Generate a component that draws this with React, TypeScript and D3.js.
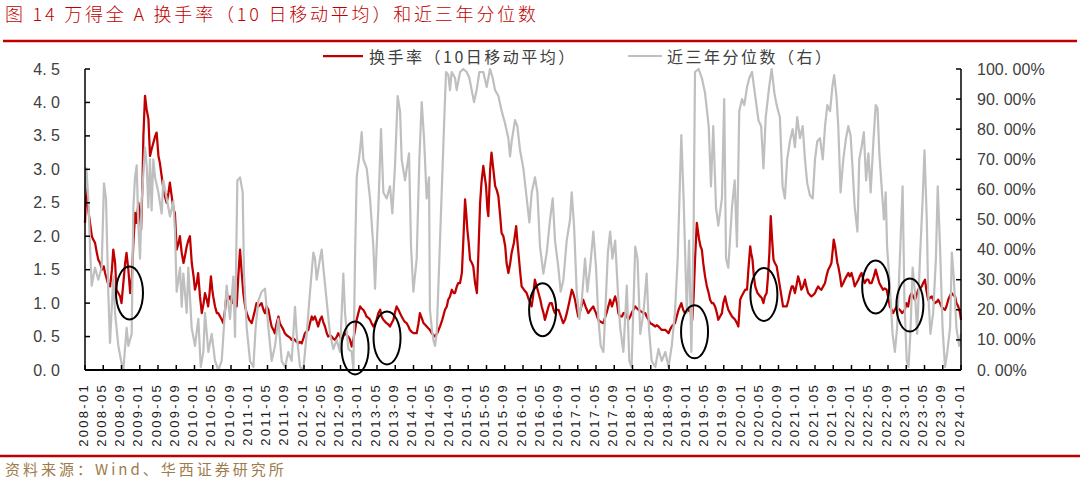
import * as d3 from 'd3';

// x positions are months counted from 2008-01
const xTickLabels = [
  '2008-01', '2008-05', '2008-09', '2009-01', '2009-05', '2009-09', '2010-01', '2010-05', '2010-09',
  '2011-01', '2011-05', '2011-09', '2012-01', '2012-05', '2012-09', '2013-01', '2013-05', '2013-09',
  '2014-01', '2014-05', '2014-09', '2015-01', '2015-05', '2015-09', '2016-01', '2016-05', '2016-09',
  '2017-01', '2017-05', '2017-09', '2018-01', '2018-05', '2018-09', '2019-01', '2019-05', '2019-09',
  '2020-01', '2020-05', '2020-09', '2021-01', '2021-05', '2021-09', '2022-01', '2022-05', '2022-09',
  '2023-01', '2023-05', '2023-09', '2024-01',
];
const leftTicks = [0, 0.5, 1, 1.5, 2, 2.5, 3, 3.5, 4, 4.5];
const rightTicks = [0, 10, 20, 30, 40, 50, 60, 70, 80, 90, 100];

// turnover rate, 10-day moving average [month, value]
const turnover2008 = [
  [0, 2.2], [0.3, 2.8], [0.7, 2.4], [1.1, 2.2], [1.5, 2.0], [1.8, 1.95], [2.2, 1.9], [2.6, 1.75], [2.9, 1.65],
  [3.3, 1.6], [3.7, 1.5], [4.1, 1.55], [4.4, 1.45], [5.0, 1.3], [5.5, 1.25], [5.9, 1.5], [6.2, 1.8], [6.6, 1.6],
  [6.9, 1.2], [7.3, 1.15], [7.7, 1.1], [8.0, 1.0], [8.4, 1.3], [8.8, 1.6], [9.1, 1.75], [9.5, 1.5], [9.9, 1.15],
  [10.3, 1.4], [10.6, 1.9], [11.0, 2.35], [11.3, 2.2], [11.7, 2.5], [12.0, 2.35], [12.3, 2.1], [12.6, 2.8],
  [12.8, 3.5], [13.15, 4.1], [13.5, 3.9], [13.9, 3.75], [14.25, 3.2], [14.6, 3.3], [15.0, 3.4], [15.4, 3.5],
  [15.7, 3.55], [16.1, 3.2], [16.4, 3.1], [16.8, 2.9], [17.2, 2.7], [17.5, 2.6], [17.9, 2.5], [18.3, 2.65],
  [18.6, 2.8], [19.0, 2.6], [19.4, 2.4], [19.7, 2.35], [20.1, 1.8], [20.5, 1.9], [20.8, 2.0], [21.2, 1.75],
  [21.6, 1.6], [21.9, 1.7], [22.3, 1.85], [22.7, 1.95], [23.0, 2.0], [23.4, 1.6], [23.8, 1.4], [24.1, 1.2],
  [24.5, 1.3], [24.8, 1.45], [25.2, 1.1], [25.6, 0.85], [26.0, 1.0], [26.3, 1.15], [26.7, 1.05], [27.0, 0.95],
  [27.3, 1.15], [27.6, 1.4], [27.9, 1.2], [28.1, 1.1], [28.5, 0.95], [28.9, 0.85], [29.2, 0.85], [29.6, 0.8],
  [30.0, 0.75], [30.3, 0.7], [30.7, 0.9], [31.05, 1.15], [31.4, 1.05], [31.8, 1.1], [32.2, 1.0], [32.5, 1.15],
  [32.9, 1.05], [33.25, 0.95], [33.6, 1.4], [33.98, 1.8], [34.3, 1.5], [34.7, 1.15], [35.1, 0.95], [35.44, 0.85],
  [36.0, 0.75], [36.54, 0.7],
];
const turnover2011 = [
  [37.1, 0.85], [37.6, 1.0], [38.0, 0.95], [38.7, 1.0], [39.1, 0.9], [39.45, 0.85], [39.8, 0.95], [40.2, 0.9],
  [40.6, 0.75], [40.9, 0.65], [41.3, 0.6], [41.6, 0.55], [42.0, 0.7], [42.4, 0.8], [42.7, 0.7], [43.1, 0.65],
  [43.5, 0.6], [43.8, 0.55], [44.2, 0.52], [44.6, 0.5], [45.0, 0.48], [45.3, 0.45], [45.7, 0.47], [46.0, 0.45],
  [46.4, 0.42], [46.8, 0.4], [47.1, 0.42], [47.5, 0.4], [47.9, 0.48], [48.2, 0.55], [48.6, 0.58], [48.95, 0.6],
  [49.3, 0.7], [49.7, 0.8], [50.0, 0.75], [50.4, 0.8], [50.8, 0.72], [51.1, 0.65], [51.5, 0.75], [51.9, 0.8],
  [52.2, 0.72], [52.6, 0.65], [53.0, 0.55], [53.3, 0.5], [53.7, 0.52], [54.1, 0.5], [54.4, 0.47], [54.8, 0.45],
  [55.2, 0.5], [55.5, 0.55], [55.9, 0.5], [56.3, 0.45], [56.6, 0.5], [57.0, 0.55], [57.4, 0.52], [57.7, 0.5],
  [58.1, 0.45], [58.45, 0.35], [58.8, 0.45], [59.2, 0.6], [59.55, 0.75], [59.9, 0.85], [60.3, 0.95], [60.6, 0.92],
  [61.0, 0.9], [61.4, 0.85], [61.7, 0.8], [62.1, 0.78], [62.5, 0.75], [62.8, 0.7], [63.2, 0.65], [63.6, 0.7],
  [63.9, 0.75], [64.3, 0.85], [64.7, 0.9], [65.0, 0.8], [65.4, 0.75], [65.8, 0.72], [66.1, 0.7], [66.5, 0.68],
  [66.85, 0.65], [67.2, 0.7], [67.6, 0.75], [67.9, 0.85], [68.3, 0.95], [68.7, 0.9], [69.05, 0.85], [69.4, 0.8],
  [69.8, 0.75], [70.1, 0.72], [70.5, 0.7], [70.9, 0.65], [71.2, 0.6], [71.6, 0.57], [72.0, 0.55], [72.3, 0.55],
  [72.7, 0.55], [73.1, 0.7], [73.4, 0.85], [73.8, 0.78], [74.2, 0.7], [74.5, 0.68], [74.9, 0.65], [75.3, 0.62],
  [75.6, 0.6], [76.0, 0.55], [76.7, 0.5],
];
const turnover2015 = [
  [77.2, 0.55], [77.8, 0.65], [78.3, 0.75], [78.9, 0.9], [79.3, 0.95], [79.6, 1.05], [80.0, 1.1], [80.4, 1.2],
  [80.8, 1.15], [81.1, 1.15], [81.5, 1.25], [81.8, 1.3], [82.2, 1.3], [82.6, 1.45], [82.9, 1.9], [83.3, 2.55],
  [83.6, 2.3], [83.8, 2.1], [84.1, 1.9], [84.4, 1.65], [84.8, 1.6], [85.1, 1.55], [85.5, 1.3], [85.9, 1.15],
  [86.2, 1.7], [86.6, 2.5], [86.9, 2.8], [87.3, 3.05], [87.6, 2.9], [87.9, 2.75], [88.2, 2.4], [88.4, 2.3],
  [88.8, 3.0], [89.1, 3.25], [89.5, 3.0], [89.9, 2.75], [90.2, 2.7], [90.6, 2.6], [91.0, 2.3], [91.3, 2.05],
  [91.7, 2.0], [92.1, 1.85], [92.4, 1.6], [92.8, 1.45], [93.2, 1.6], [93.5, 1.75], [94.0, 1.9], [94.5, 2.15],
  [94.8, 1.9], [95.0, 1.75], [95.4, 1.45], [95.7, 1.25], [96.2, 1.2], [96.8, 1.15], [97.3, 1.05], [97.9, 0.95],
  [98.2, 1.1], [98.6, 1.35], [99.0, 1.25], [99.4, 1.15], [99.8, 1.05], [100.1, 0.95], [100.5, 0.85], [100.8, 0.75],
  [101.2, 0.85], [101.6, 0.95], [101.9, 1.0], [102.3, 1.0], [102.7, 0.9], [103.0, 0.85], [103.4, 0.9], [103.8, 0.9],
  [104.3, 0.8], [104.8, 0.7], [105.2, 0.75], [105.6, 0.85], [106.1, 1.0], [106.7, 1.2], [107.0, 1.15], [107.4, 1.05],
  [107.8, 0.9], [108.1, 0.8], [108.6, 0.9], [109.2, 1.05], [109.7, 0.95], [110.3, 0.85], [110.8, 0.9], [111.4, 0.95],
  [112.0, 0.85], [112.5, 0.75], [113.0, 0.72], [113.6, 0.7], [114.3, 0.85], [115.1, 1.05],
];
const turnover2019 = [
  [115.5, 0.95], [116.2, 1.1], [116.6, 1.0], [116.9, 0.85], [117.3, 0.8], [117.7, 0.8], [118.0, 0.85], [118.4, 0.85],
  [118.8, 0.8], [119.1, 0.75], [119.5, 0.8], [119.8, 0.85], [120.2, 0.9], [120.6, 0.95], [121.0, 0.92], [121.3, 0.9],
  [121.8, 0.88], [122.4, 0.85], [122.8, 0.85], [123.1, 0.8], [123.5, 0.75], [123.9, 0.7], [124.4, 0.68], [125.0, 0.65],
  [125.3, 0.67], [125.7, 0.65], [126.1, 0.62], [126.4, 0.6], [126.8, 0.6], [127.2, 0.6], [127.5, 0.58], [127.9, 0.55],
  [128.2, 0.6], [128.6, 0.65], [129.0, 0.68], [129.3, 0.7], [129.7, 0.8], [130.1, 0.9], [130.4, 0.95], [130.7, 1.0],
  [131.1, 0.9], [131.5, 0.85], [132.0, 0.88], [132.6, 0.9], [133.1, 0.75], [133.4, 1.1], [133.7, 1.65], [134.1, 2.2],
  [134.4, 2.05], [134.6, 1.95], [134.9, 1.85], [135.2, 1.8], [135.5, 1.6], [135.9, 1.4], [136.3, 1.25], [136.7, 1.15],
  [137.0, 1.05], [137.4, 1.0], [137.7, 1.0], [138.1, 0.95], [138.5, 0.85], [138.8, 0.75], [139.2, 0.8], [139.6, 0.85],
  [139.9, 1.0], [140.3, 1.1], [140.6, 1.0], [141.0, 0.9], [141.4, 0.85], [141.8, 0.8], [142.1, 0.78], [142.5, 0.75],
  [142.9, 0.7], [143.2, 0.65], [143.6, 1.05], [143.9, 1.1], [144.3, 1.15], [144.7, 1.2], [145.1, 1.2], [145.4, 1.5],
  [145.8, 1.85], [146.0, 1.75], [146.3, 1.65], [146.6, 1.4], [146.9, 1.25], [147.4, 1.15], [148.0, 1.1], [148.3, 1.08],
  [148.7, 1.0], [149.0, 1.1], [149.4, 1.15], [149.7, 1.4], [150.0, 1.75], [150.3, 2.3], [150.6, 1.95], [150.9, 1.65],
  [151.2, 1.6], [151.6, 1.55],
];
const turnover2021 = [
  [152.3, 1.25], [153.0, 0.95], [153.8, 0.95], [154.2, 1.05], [154.5, 1.15], [154.9, 1.25], [155.2, 1.25], [155.6, 1.15],
  [155.9, 1.25], [156.3, 1.4], [156.7, 1.3], [157.0, 1.2], [157.4, 1.25], [157.8, 1.35], [158.1, 1.25], [158.5, 1.15],
  [158.9, 1.12], [159.2, 1.1], [159.6, 1.12], [160.0, 1.15], [160.3, 1.2], [160.7, 1.25], [161.0, 1.22], [161.4, 1.2],
  [161.8, 1.25], [162.2, 1.3], [162.5, 1.4], [162.9, 1.5], [163.3, 1.55], [163.6, 1.6], [163.9, 1.8], [164.1, 1.95],
  [164.4, 1.85], [164.6, 1.75], [164.9, 1.6], [165.1, 1.55], [165.5, 1.4], [165.8, 1.25], [166.2, 1.3], [166.5, 1.35],
  [166.9, 1.4], [167.3, 1.45], [167.6, 1.4], [168.0, 1.45], [168.4, 1.35], [168.7, 1.25], [169.1, 1.3], [169.5, 1.35],
  [169.8, 1.4], [170.2, 1.45], [170.6, 1.35], [170.9, 1.3], [171.3, 1.35], [171.7, 1.35], [172.0, 1.3], [172.4, 1.3],
  [172.9, 1.4], [173.3, 1.5], [173.7, 1.4], [174.1, 1.3], [174.5, 1.25], [174.9, 1.2], [175.3, 1.22], [175.7, 1.2],
  [176.0, 1.1], [176.4, 0.95], [176.8, 0.9], [177.1, 0.85], [177.5, 0.9], [177.9, 0.95], [178.2, 0.92], [178.6, 0.9],
  [179.1, 0.85], [179.7, 0.9], [180.0, 1.0], [180.4, 0.95], [180.8, 1.1], [181.2, 1.15], [181.5, 1.1], [181.9, 1.05],
  [182.2, 1.1], [182.6, 1.2], [183.0, 1.22], [183.4, 1.25], [183.7, 1.3], [184.1, 1.35], [184.4, 1.2], [184.8, 1.05],
  [185.2, 1.08], [185.6, 1.1], [185.9, 1.05], [186.3, 1.0], [186.7, 1.02], [187.0, 1.05], [187.4, 1.0], [187.7, 0.95],
  [188.1, 0.92], [188.5, 0.9], [188.8, 0.95], [189.2, 1.05], [189.5, 1.1], [189.9, 1.15], [190.3, 1.12], [190.7, 1.1],
  [191.0, 1.0], [191.4, 0.95], [191.8, 0.85], [192.0, 0.75],
];

// three-year percentile (%) [month, value]
const percentile2008 = [
  [0, 58], [0.3, 67], [0.73, 57], [1.1, 41], [1.46, 28], [2.19, 34], [2.92, 30], [3.65, 34], [4.16, 62], [4.6, 57],
  [5.1, 26], [5.48, 9], [6.21, 31], [6.58, 19], [7.31, 8], [8.04, 2], [8.4, 0], [9.13, 14], [9.5, 8], [10.23, 12],
  [10.6, 54], [10.96, 64], [11.33, 68], [11.69, 48], [12.06, 37], [12.42, 56], [13.15, 74], [13.52, 68], [13.88, 54],
  [14.25, 70], [14.6, 53], [14.98, 70], [15.35, 64], [16.08, 59], [16.8, 52], [17.17, 63], [17.9, 57], [18.63, 51],
  [19.36, 56], [19.73, 46], [20.09, 26], [20.83, 34], [21.19, 21], [21.56, 32], [22.29, 19], [22.65, 34], [23.38, 14],
  [24.11, 8], [24.84, 17], [25.36, 1], [25.94, 6], [26.3, 19], [27.04, 6], [27.77, 12], [28.5, 3], [29.23, 0],
  [29.96, 3], [30.69, 20], [31.05, 28], [31.78, 17], [32.52, 31], [32.88, 11], [33.39, 63], [33.98, 64], [34.56, 59],
  [34.85, 32], [35.44, 14], [36.17, 3], [36.9, 1],
];
const percentile2011 = [
  [37.4, 14], [37.99, 23], [38.72, 26], [39.45, 27], [40.19, 14], [40.91, 3], [41.64, 8], [42.37, 17], [43.11, 3],
  [43.84, 1], [44.57, 6], [45.3, 3], [46.03, 21], [46.39, 12], [47.12, 1], [47.85, 0], [48.59, 12], [49.32, 26],
  [50.05, 39], [50.41, 37], [50.78, 30], [51.51, 37], [51.87, 40], [52.24, 34], [52.97, 23], [53.7, 12], [54.43, 7],
  [55.16, 10], [55.89, 6], [56.62, 32], [56.99, 19], [57.72, 7], [58.45, 6], [58.82, 0], [59.18, 37], [59.55, 64],
  [60.28, 73], [60.64, 79], [61.01, 70], [61.74, 67], [62.47, 57], [63.2, 41], [63.57, 27], [63.93, 41], [64.3, 54],
  [64.88, 80], [65.39, 59], [66.12, 57], [66.85, 61], [67.36, 52], [67.95, 68], [68.53, 91], [69.05, 86], [69.41, 70],
  [70.14, 63], [71.02, 72], [71.46, 41], [71.97, 26], [72.7, 37], [73.28, 70], [73.8, 89], [74.31, 77], [74.89, 57],
  [75.4, 64], [75.6, 20], [76.0, 14], [76.35, 10], [76.72, 8],
];
const percentile2015 = [
  [77.08, 12], [77.67, 37], [78.18, 59], [78.69, 81], [79.13, 99], [79.64, 98], [80.0, 93], [80.37, 99], [81.1, 97],
  [81.47, 93], [82.2, 99], [82.93, 100], [83.66, 99], [84.24, 97], [84.75, 93], [85.27, 89], [85.85, 93], [86.43, 99],
  [87.31, 99], [88.04, 94], [88.77, 100], [89.36, 97], [89.87, 93], [90.6, 91], [91.33, 86], [92.06, 82], [92.79, 77],
  [93.16, 71], [93.52, 76], [94.25, 83], [94.76, 81], [95.35, 73], [96.08, 67], [96.81, 57], [97.4, 49], [97.91, 59],
  [98.64, 64], [99.15, 59], [99.73, 41], [100.46, 32], [101.2, 39], [101.93, 50], [102.51, 57], [103.02, 43],
  [103.75, 34], [104.26, 26], [104.85, 30], [105.58, 43], [106.31, 50], [106.67, 59], [107.19, 48], [107.77, 26],
  [108.36, 17], [108.87, 23], [109.6, 37], [110.11, 26], [110.7, 34], [111.42, 46], [112.01, 34], [112.52, 17],
  [113.03, 8], [113.62, 6], [114.0, 18],
];
const percentile2019 = [
  [114.6, 39], [115.1, 46], [115.6, 37], [116.2, 43], [116.8, 26], [117.3, 14], [118.0, 6], [118.75, 28], [119.3, 3],
  [119.8, 1], [120.6, 41], [121.1, 37], [121.7, 12], [122.4, 19], [123.1, 32], [123.6, 14], [124.2, 3], [125.0, 1],
  [125.7, 7], [126.4, 3], [127.2, 6], [127.9, 1], [128.6, 8], [129.3, 19], [129.9, 37], [130.7, 78], [131.2, 57],
  [131.9, 19], [132.4, 43], [132.9, 6], [133.4, 48], [133.7, 99], [134.5, 100], [135.2, 97], [135.9, 92], [136.7, 81],
  [137.2, 61], [137.7, 81], [138.3, 54], [138.8, 48], [139.6, 57], [140.1, 90], [140.5, 37], [141.0, 34], [141.8, 54],
  [142.4, 63], [142.9, 41], [143.4, 86], [144.0, 90], [144.5, 88], [145.1, 94], [145.6, 97], [146.2, 99], [146.9, 91],
  [147.6, 83], [148.2, 81], [148.7, 67], [149.2, 84], [149.95, 94], [150.5, 100], [151.1, 92], [151.6, 88],
];
const percentile2021 = [
  [152.3, 84], [152.9, 61], [153.4, 57], [153.9, 70], [154.5, 76], [155.1, 80], [155.6, 74], [156.1, 84], [156.7, 77],
  [157.3, 81], [157.8, 70], [158.3, 62], [158.9, 58], [159.5, 57], [160.0, 70], [160.5, 76], [161.1, 77], [161.7, 70],
  [162.2, 81], [162.7, 88], [163.3, 86], [163.8, 94], [164.2, 98], [164.7, 91], [165.1, 81], [165.6, 59], [166.2, 70],
  [166.8, 77], [167.3, 81], [167.8, 78], [168.2, 68], [168.7, 54], [169.3, 46], [169.7, 70], [170.2, 74], [170.7, 79],
  [171.2, 63], [171.7, 72], [172.2, 59], [172.8, 76], [173.3, 88], [173.7, 87], [174.1, 72], [174.6, 61], [175.1, 50],
  [175.5, 59], [175.8, 41], [176.4, 28], [177.0, 12], [177.5, 6], [178.0, 14], [178.6, 37], [179.2, 61], [179.6, 23],
  [180.1, 3], [180.5, 1], [180.9, 12], [181.4, 34], [181.9, 26], [182.4, 12], [183.0, 37], [183.6, 57], [184.0, 73],
  [184.5, 50], [184.8, 26], [185.3, 12], [185.9, 19], [186.5, 37], [186.9, 61], [187.4, 41], [187.96, 14], [188.5, 1],
  [189.0, 6], [189.6, 14], [190.0, 39], [190.4, 31], [191.0, 14], [191.6, 8], [192.0, 12],
];

// circled spots [month, turnover]
const circleSpots = [
  [9.75, 1.15], [59.2, 0.33], [66.2, 0.48], [100.3, 0.9], [133.6, 0.57], [148.8, 1.13], [173.3, 1.24], [180.8, 0.97],
];

const RED = '#C00000';
const GRAY = '#BFBFBF';
const CJK = "'Noto Sans CJK SC', 'Noto Sans', sans-serif";
const NUM = "'Liberation Sans', Arial, sans-serif";

const App = () => {
  const margin = { top: 69, right: 961, bottom: 370, left: 85 };
  const x = d3.scaleLinear().domain([0, 192]).range([margin.left, margin.right]);
  const yLeft = d3.scaleLinear().domain([0, 4.5]).range([margin.bottom, margin.top]);
  const yRight = d3.scaleLinear().domain([0, 100]).range([margin.bottom, margin.top]);

  const turnover = [...turnover2008, ...turnover2011, ...turnover2015, ...turnover2019, ...turnover2021];
  const percentile = [...percentile2008, ...percentile2011, ...percentile2015, ...percentile2019, ...percentile2021];

  const redLine = d3.line<number[]>().x((d) => x(d[0])).y((d) => yLeft(d[1]));
  const grayLine = d3.line<number[]>().x((d) => x(d[0])).y((d) => yRight(d[1]));

  const fmtLeft = (v: number) => d3.format('.1f')(v).replace('.', '. ');
  const fmtRight = (v: number) => d3.format('.2f')(v).replace('.', '. ') + '%';

  return (
    <svg width={1080} height={484} style={{ position: 'absolute', left: 0, top: 0, background: '#fff' }}>
      {/* title */}
      <text x={5} y={21} fill={RED} fontFamily={CJK} fontWeight={300} fontSize={18} letterSpacing={2.8}>
        图 14 万得全 A 换手率（10 日移动平均）和近三年分位数
      </text>
      <line x1={3} x2={1077} y1={41} y2={41} stroke={RED} strokeWidth={2.5} />

      {/* legend */}
      <line x1={323} x2={363} y1={56} y2={56} stroke={RED} strokeWidth={2.25} />
      <text x={369} y={56} dominantBaseline="central" fill="#404040" fontFamily={CJK} fontSize={16} letterSpacing={2.5}>
        换手率（10日移动平均）
      </text>
      <line x1={628} x2={662} y1={56} y2={56} stroke={GRAY} strokeWidth={2} />
      <text x={667} y={56} dominantBaseline="central" fill="#404040" fontFamily={CJK} fontSize={16} letterSpacing={2.5}>
        近三年分位数（右）
      </text>

      {/* series */}
      <path d={redLine(turnover) ?? ''} fill="none" stroke={RED} strokeWidth={2.25} strokeLinejoin="round" />
      <path d={grayLine(percentile) ?? ''} fill="none" stroke={GRAY} strokeWidth={2.2} strokeLinejoin="round" />

      {/* circles */}
      {circleSpots.map((d, i) => (
        <ellipse key={i} cx={x(d[0])} cy={yLeft(d[1])} rx={13.5} ry={26.5} fill="none" stroke="#000" strokeWidth={2} />
      ))}

      {/* left axis */}
      <line x1={margin.left} x2={margin.left} y1={margin.top} y2={margin.bottom} stroke="#000" strokeWidth={1.5} />
      {leftTicks.map((t) => (
        <g key={t}>
          <line x1={margin.left} x2={margin.left + 5} y1={yLeft(t)} y2={yLeft(t)} stroke="#000" strokeWidth={1.5} />
          <text x={60} y={yLeft(t)} textAnchor="end" dominantBaseline="central" fill="#404040" fontFamily={NUM} fontSize={16}>
            {fmtLeft(t)}
          </text>
        </g>
      ))}

      {/* right axis */}
      <line x1={margin.right} x2={margin.right} y1={margin.top} y2={margin.bottom} stroke="#000" strokeWidth={1.5} />
      {rightTicks.map((t) => (
        <g key={t}>
          <line x1={margin.right - 5} x2={margin.right} y1={yRight(t)} y2={yRight(t)} stroke="#000" strokeWidth={1.5} />
          <text x={977} y={yRight(t)} dominantBaseline="central" fill="#404040" fontFamily={NUM} fontSize={16}>
            {fmtRight(t)}
          </text>
        </g>
      ))}

      {/* bottom axis */}
      <line x1={margin.left} x2={margin.right} y1={margin.bottom} y2={margin.bottom} stroke="#000" strokeWidth={2} />
      {xTickLabels.map((label, i) => (
        <g key={label}>
          <line x1={x(i * 4)} x2={x(i * 4)} y1={margin.bottom} y2={margin.bottom - 5} stroke="#000" strokeWidth={1.5} />
          <text
            transform={`translate(${x(i * 4) - 2},383) rotate(-90)`}
            textAnchor="end"
            dominantBaseline="central"
            fill="#1a1a1a"
            fontFamily={NUM}
            fontSize={13}
            letterSpacing={2.3}
          >
            {label}
          </text>
        </g>
      ))}

      {/* source */}
      <line x1={0} x2={1080} y1={456} y2={456} stroke={RED} strokeWidth={2.5} />
      <text x={5} y={475} fill="#9E7B4A" fontFamily={CJK} fontSize={15} letterSpacing={3}>
        资料来源：Wind、华西证券研究所
      </text>
    </svg>
  );
};

export default App;
